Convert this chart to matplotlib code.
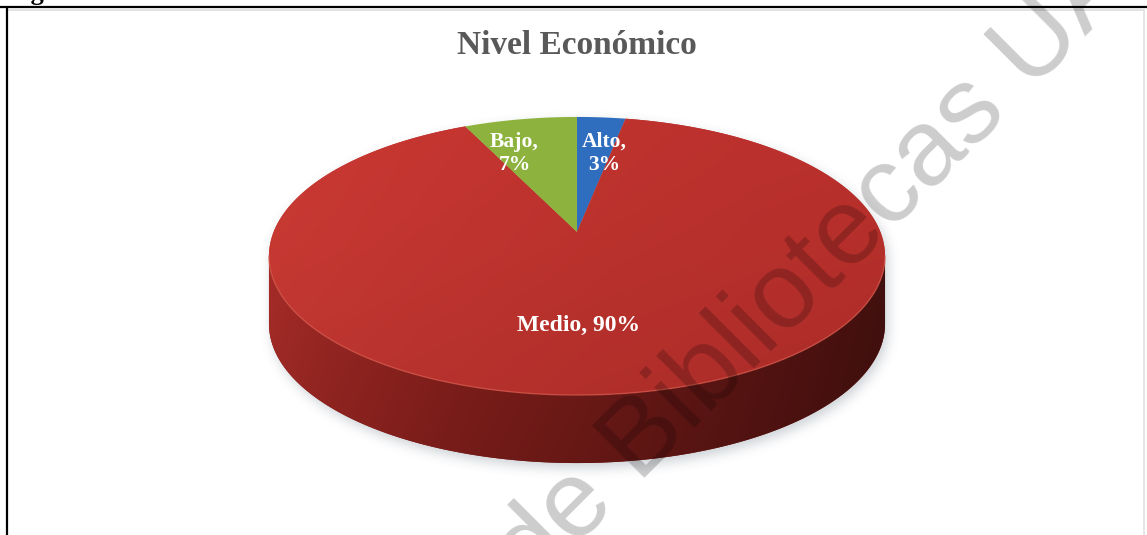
"""
Nivel economico: 3D pie (Excel style) drawn with plain matplotlib patches.
"""

import numpy as np
import matplotlib
matplotlib.use("Agg")
import matplotlib.pyplot as plt
from matplotlib.patches import Polygon
from matplotlib.path import Path

# data
categories = ["Alto", "Medio", "Bajo"]
shares = [3, 90, 7]
label_text = ["Alto,\n3%", "Medio, 90%", "Bajo,\n7%"]
title = "Nivel Económico"

colors = {"Alto": "#2F6DBE", "Medio": "#C0342F", "Bajo": "#8DB33E"}
label_radius = {"Alto": 0.68, "Medio": 0.60, "Bajo": 0.68}
label_nudge = {"Alto": (10, 3), "Medio": (-24, 4), "Bajo": (-22, 2)}
label_size = {"Alto": 15.5, "Medio": 17, "Bajo": 15.5}

W, H = 1147, 535
# perspective disc: centre, half axes and tilt factor
CX, CY = 577, 232
A, B, K = 303.4, 134.9, 0.1726
DEPTH = 68


def project(theta, r=1.0):
    """theta in degrees, clockwise from 12 o'clock -> pixel coords"""
    t = np.radians(theta)
    u = r * np.sin(t)
    v = r * np.cos(t)
    w = 1 + K * v
    return CX + A * u / w, CY - B * v / w


def box_blur(img, rad, passes=3):
    for _ in range(passes):
        for axis in (0, 1):
            pad = [(0, 0), (0, 0)]
            pad[axis] = (rad + 1, rad)
            c = np.cumsum(np.pad(img, pad, mode="edge"), axis=axis)
            if axis == 0:
                img = (c[2 * rad + 1:] - c[:-2 * rad - 1]) / (2 * rad + 1)
            else:
                img = (c[:, 2 * rad + 1:] - c[:, :-2 * rad - 1]) / (2 * rad + 1)
    return img


def gradient_fill(ax, patch, x_stops, rgb_stops, y_stops=None, y_gain=None, z=3):
    """fill a patch with a horizontal colour ramp (optionally darkened with y)"""
    ext = patch.get_path().get_extents()
    x0, y0, x1, y1 = ext.x0 - 2, ext.y0 - 2, ext.x1 + 2, ext.y1 + 2
    xs = np.linspace(x0, x1, 400)
    ys = np.linspace(y0, y1, 200)
    rgb = np.stack([np.interp(xs, x_stops, [c[i] for c in rgb_stops]) for i in range(3)], axis=-1)
    img = np.repeat(rgb[None, :, :], len(ys), axis=0)
    if y_stops is not None:
        g = np.interp(ys, y_stops, y_gain)
        img = img * g[:, None, None]
    im = ax.imshow(np.clip(img / 255.0, 0, 1), extent=(x0, x1, y1, y0),
                   interpolation="bilinear", zorder=z, aspect="auto")
    im.set_clip_path(patch)


fig = plt.figure(figsize=(W / 100, H / 100), dpi=100)
ax = fig.add_axes([0, 0, 1, 1])
ax.set_xlim(0, W)
ax.set_ylim(H, 0)
ax.axis("off")

# slice angles, starting at the top and running clockwise
total = float(sum(shares))
bounds = np.concatenate([[0], np.cumsum(shares) / total * 360.0])

# visible front of the cylinder wall
th1 = np.degrees(np.arccos(-K))
th_front = np.linspace(th1, 360 - th1, 240)
fx, fy = project(th_front)
side_xy = np.column_stack([np.r_[fx, fx[::-1]], np.r_[fy, fy[::-1] + DEPTH]])

# soft drop shadow under the pie
allth = np.linspace(0, 360, 360)
ex, ey = project(allth)
gx, gy = np.meshgrid(np.arange(W) + 0.5, np.arange(H) + 0.5)
pts = np.column_stack([gx.ravel() - 3, gy.ravel() - 5])
mask = (Path(np.column_stack([ex, ey])).contains_points(pts) |
        Path(side_xy).contains_points(pts)).reshape(H, W).astype(float)
mask = box_blur(mask, 5)
shadow = np.zeros((H, W, 4))
shadow[..., 0], shadow[..., 1], shadow[..., 2] = 0.45, 0.5, 0.55
shadow[..., 3] = mask * 0.35
ax.imshow(shadow, extent=(0, W, H, 0), zorder=1, aspect="auto")

# wall
side = Polygon(side_xy, closed=True, facecolor="#7a1c18", edgecolor="none", zorder=2)
ax.add_patch(side)
gradient_fill(ax, side, [265, 330, 470, 600, 760, 890],
              [(166, 44, 40), (152, 38, 34), (128, 30, 27), (110, 26, 23), (86, 20, 18), (66, 16, 14)],
              y_stops=[250, 330, 470], y_gain=[1.0, 0.97, 0.9], z=2)

# top face wedges
for cat, a0, a1 in zip(categories, bounds[:-1], bounds[1:]):
    th = np.linspace(a0, a1, max(int(a1 - a0) * 2, 8))
    wx, wy = project(th)
    xy = np.column_stack([np.r_[CX, wx], np.r_[CY, wy]])
    wedge = Polygon(xy, closed=True, facecolor=colors[cat], edgecolor="none", zorder=3)
    ax.add_patch(wedge)
    if cat == "Medio":
        gradient_fill(ax, wedge, [265, 420, 600, 760, 890],
                      [(204, 58, 52), (198, 54, 49), (192, 51, 46), (188, 49, 45), (186, 48, 44)],
                      y_stops=[115, 250, 400], y_gain=[1.0, 0.97, 0.92], z=3)

# thin rim highlight between top and wall
ax.plot(fx, fy, color="#d65a4e", lw=1.0, alpha=0.7, zorder=4)

# data labels
for cat, txt, a0, a1 in zip(categories, label_text, bounds[:-1], bounds[1:]):
    lx, ly = project((a0 + a1) / 2, label_radius[cat])
    dx, dy = label_nudge[cat]
    ax.text(lx + dx, ly + dy, txt, color="white", fontsize=label_size[cat],
            fontweight="bold", family="Liberation Serif", ha="center", va="center",
            linespacing=1.2, zorder=6)

ax.text(577, 45, title, color="#595959", fontsize=24, fontweight="bold",
        family="Liberation Serif", ha="center", va="center", zorder=6)

# frame of the embedded chart
ax.plot([0, W], [7, 7], color="black", lw=1.6, zorder=8, solid_capstyle="butt")
ax.plot([7, 7], [7, H], color="black", lw=1.6, zorder=8, solid_capstyle="butt")
ax.plot([9, W - 3], [10, 10], color="#dddddd", lw=1.2, zorder=7)
ax.plot([W - 3, W - 3], [10, H], color="#e2e2e2", lw=1.2, zorder=7)

# caption line above the frame (cut off at the top edge)
ax.text(8, 0, "Figura", fontsize=19, fontweight="bold", family="Liberation Serif",
        ha="left", va="baseline", zorder=8, clip_on=False)

# repository watermark
ax.text(815, 268, "de Bibliotecas UA", fontsize=78, family="Liberation Sans",
        color="black", alpha=0.2, rotation=45, rotation_mode="anchor",
        ha="center", va="center", zorder=9)

fig.savefig("out.png", dpi=100)
